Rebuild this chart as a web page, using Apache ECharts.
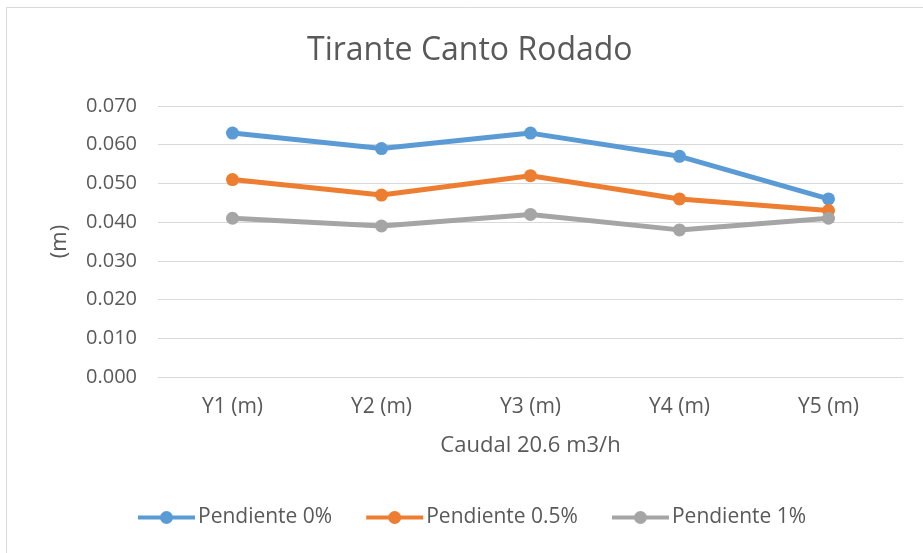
<!DOCTYPE html>
<html><head><meta charset="utf-8">
<script src="https://cdn.jsdelivr.net/npm/echarts@6/dist/echarts.min.js"></script>
<style>html,body{margin:0;padding:0;background:#fff}#c{width:923px;height:553px}</style>
</head><body><div id="c"></div>
<script>
var categories = ['Y1 (m)', 'Y2 (m)', 'Y3 (m)', 'Y4 (m)', 'Y5 (m)'];
var seriesNames = ['Pendiente 0%', 'Pendiente 0.5%', 'Pendiente 1%'];
var pend0 = [0.063, 0.059, 0.063, 0.057, 0.046];
var pend05 = [0.051, 0.047, 0.052, 0.046, 0.043];
var pend1 = [0.041, 0.039, 0.042, 0.038, 0.041];
var colors = ['#5B9BD5', '#ED7D31', '#A5A5A5'];
var font = '"Open Sans", "Noto Sans", sans-serif';
var chart = echarts.init(document.getElementById('c'), null, {renderer: 'canvas'});
function mk(name, data, color) {
  return {name: name, type: 'line', data: data, symbol: 'circle', symbolSize: 13,
    lineStyle: {width: 5, color: color}, itemStyle: {color: color}};
}
chart.setOption({
  animation: false,
  backgroundColor: '#fff',
  graphic: [{type: 'rect', shape: {x: 6.5, y: 7.5, width: 940, height: 560},
    style: {fill: 'none', stroke: '#d9d9d9', lineWidth: 1}}],
  title: {text: 'Tirante Canto Rodado', left: 302, top: 30,
    textStyle: {fontFamily: font, fontSize: 32, fontWeight: 'normal', color: '#595959'}},
  legend: {bottom: 20, left: 133, itemWidth: 57, itemHeight: 13, itemGap: 34,
    icon: 'path://M0,4.5 L57,4.5 L57,8.5 L0,8.5 Z M35,6.5 A6.5,6.5 0 1,1 22,6.5 A6.5,6.5 0 1,1 35,6.5 Z',
    textStyle: {fontFamily: font, fontSize: 21, color: '#595959', padding: [0,0,0,-2]},
    data: seriesNames},
  grid: {left: 158, right: 20, top: 106, bottom: 176},
  xAxis: {type: 'category', data: categories, boundaryGap: true,
    name: 'Caudal 20.6 m3/h', nameLocation: 'middle', nameGap: 58,
    nameTextStyle: {fontFamily: font, fontSize: 22, color: '#595959'},
    axisLine: {lineStyle: {color: '#d9d9d9', width: 1}}, axisTick: {show: false},
    axisLabel: {fontFamily: font, fontSize: 21, color: '#595959', margin: 20}},
  yAxis: {type: 'value', min: 0, max: 0.07, interval: 0.01,
    name: '(m)', nameLocation: 'middle', nameGap: 87,
    nameTextStyle: {fontFamily: font, fontSize: 22, color: '#595959'},
    axisLine: {show: false}, axisTick: {show: false},
    splitLine: {lineStyle: {color: '#d9d9d9', width: 1}},
    axisLabel: {fontFamily: font, fontSize: 20, color: '#595959', margin: 21,
      formatter: function (v) { return v.toFixed(3); }}},
  series: [mk(seriesNames[0], pend0, colors[0]), mk(seriesNames[1], pend05, colors[1]), mk(seriesNames[2], pend1, colors[2])]
});
</script></body></html>
